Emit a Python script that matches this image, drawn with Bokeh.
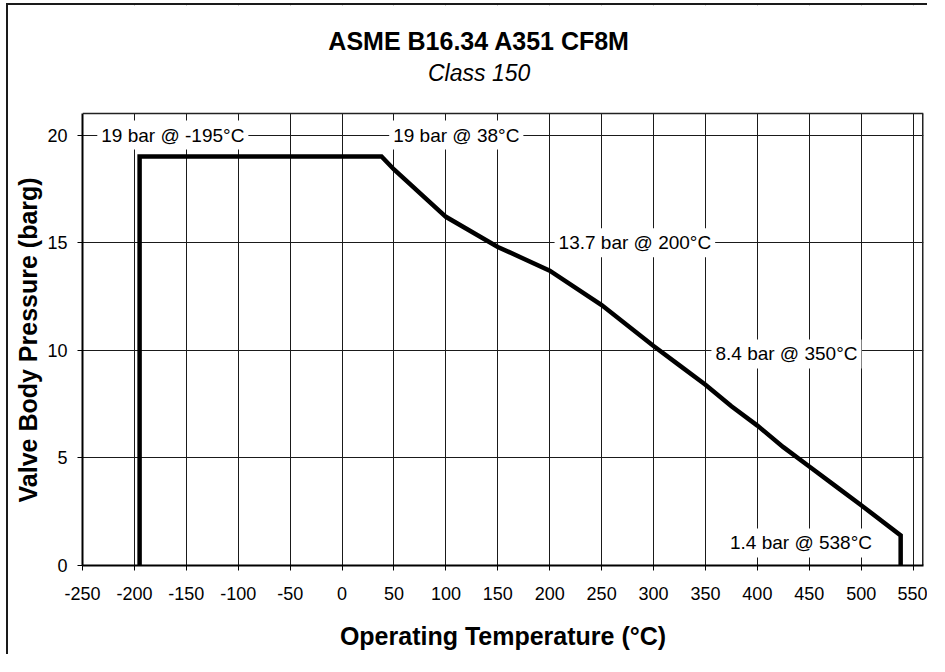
from bokeh.plotting import figure
from bokeh.models import Label, FixedTicker, Range1d, BoxAnnotation, Span, Title
from bokeh.embed import file_html
from bokeh.resources import INLINE

# ---- data ----
temperature_c = [-195, -195, 38, 50, 100, 150, 200, 250, 300, 325, 350, 375, 400, 425, 450, 475, 500, 538, 538]
pressure_barg = [0, 19.0, 19.0, 18.4, 16.2, 14.8, 13.7, 12.1, 10.2, 9.3, 8.4, 7.4, 6.5, 5.5, 4.6, 3.7, 2.8, 1.4, 0]
x_ticks = list(range(-250, 551, 50))
y_ticks = [0, 5, 10, 15, 20]
annotations = ["19 bar @ -195°C", "19 bar @ 38°C", "13.7 bar @ 200°C", "8.4 bar @ 350°C", "1.4 bar @ 538°C"]
title_text = "ASME B16.34 A351 CF8M"
subtitle_text = "Class 150"
x_label = "Operating Temperature (°C)"
y_label = "Valve Body Pressure (barg)"

FONT = "Liberation Sans"

X0, X1 = -250, 560
Y0, Y1 = 0, 21
PLOT_H = 452           # pixel height of the visible plot area (0..21)
FRAME_H = 560          # frame extended upward to host the titles
y_end = Y1 * FRAME_H / PLOT_H

p = figure(width=921, height=651, x_range=Range1d(X0, X1), y_range=Range1d(Y0, y_end),
           output_backend="svg", toolbar_location=None, title=None,
           min_border_left=73, min_border_right=6, min_border_top=0, min_border_bottom=91)

p.styles = {"margin-left": "6px", "margin-top": "3px",
            "border-left": "2px solid #1a1a1a", "border-top": "2px solid #1a1a1a"}

p.background_fill_color = "white"
p.border_fill_color = "white"
p.outline_line_color = None

p.line(temperature_c, pressure_barg, line_color="black", line_width=4.5, line_join="miter")
# right border of the plot area
p.segment(x0=[X1], y0=[Y0], x1=[X1], y1=[Y1], line_color="#222222", line_width=3)

p.xaxis.ticker = FixedTicker(ticks=x_ticks)
p.yaxis.ticker = FixedTicker(ticks=y_ticks)
p.yaxis.bounds = (Y0, Y1)
p.xaxis.major_label_overrides = {t: str(t) for t in x_ticks}
p.yaxis.major_label_overrides = {t: str(t) for t in y_ticks}
p.xaxis.minor_tick_line_color = None
p.yaxis.minor_tick_line_color = None
for ax in (p.xaxis, p.yaxis):
    ax.major_tick_in = 0
    ax.major_tick_out = 5
    ax.major_tick_line_color = "black"
    ax.axis_line_color = "black"
    ax.axis_line_width = 2
    ax.major_label_text_font = FONT
    ax.major_label_text_font_size = "18px"
    ax.major_label_text_color = "black"

p.xaxis.axis_label = x_label
p.xaxis.axis_label_text_font = FONT
p.xaxis.axis_label_text_font_size = "25px"
p.xaxis.axis_label_text_font_style = "bold"
p.xaxis.axis_label_text_color = "black"
p.xaxis.major_label_standoff = 16
p.yaxis.major_label_standoff = 10
p.xaxis.axis_label_standoff = 19

# y-axis title, centred on the visible plot area (0..21) rather than the whole frame
p.add_layout(Title(text=y_label, align="left", offset=63, vertical_align="bottom", standoff=6,
                   text_font=FONT, text_font_size="25px", text_font_style="bold",
                   text_color="black"), "left")

p.xgrid.ticker = FixedTicker(ticks=x_ticks)
p.ygrid.ticker = FixedTicker(ticks=y_ticks)
p.grid.grid_line_color = "#1a1a1a"
p.grid.grid_line_width = 1

# white mask over the frame area above the plot, then the top border
p.add_layout(BoxAnnotation(bottom=Y1, fill_color="white", fill_alpha=1.0, line_color=None))
p.add_layout(Span(location=Y1, dimension="width", line_color="#222222", line_width=1.5))

# chart titles
p.add_layout(Label(x=132, y=24.39, text=title_text, text_align="center", text_baseline="middle",
                   text_font=FONT, text_font_size="25px", text_font_style="bold", text_color="black"))
p.add_layout(Label(x=132, y=22.9, text=subtitle_text, text_align="center", text_baseline="middle",
                   text_font=FONT, text_font_size="23px", text_font_style="italic", text_color="black"))

label_pos = [(-163, 20), (110, 20), (282, 15), (428, 9.83), (442, 1.05)]
for txt, (lx, ly) in zip(annotations, label_pos):
    p.add_layout(Label(x=lx, y=ly, text=txt, text_align="center", text_baseline="middle",
                       text_font=FONT, text_font_size="19px", text_color="black",
                       background_fill_color="white", padding=4))

open("out.html", "w").write(file_html(p, INLINE))
